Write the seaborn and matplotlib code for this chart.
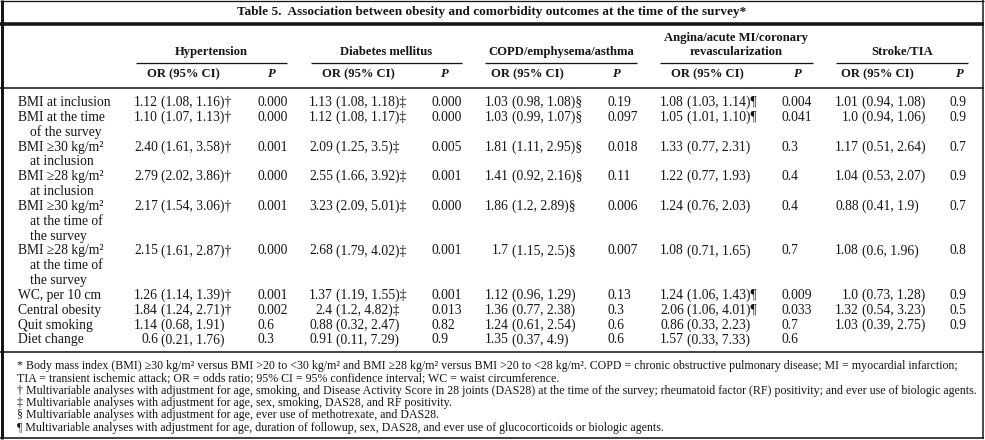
import matplotlib
matplotlib.use("Agg")
import matplotlib.pyplot as plt
import seaborn as sns
import pandas as pd

# ---------------- data ----------------
title = "Table 5.  Association between obesity and comorbidity outcomes at the time of the survey*"
outcomes = [["Hypertension"], ["Diabetes mellitus"], ["COPD/emphysema/asthma"],
            ["Angina/acute MI/coronary", "revascularization"], ["Stroke/TIA"]]
row_labels = [["BMI at inclusion"],
              ["BMI at the time", "of the survey"],
              ["BMI \u226530 kg/m\u00b2", "at inclusion"],
              ["BMI \u226528 kg/m\u00b2", "at inclusion"],
              ["BMI \u226530 kg/m\u00b2", "at the time of", "the survey"],
              ["BMI \u226528 kg/m\u00b2", "at the time of", "the survey"],
              ["WC, per 10 cm"],
              ["Central obesity"],
              ["Quit smoking"],
              ["Diet change"]]
hyp_or = ["1.12 (1.08, 1.16)\u2020", "1.10 (1.07, 1.13)\u2020", "2.40 (1.61, 3.58)\u2020",
          "2.79 (2.02, 3.86)\u2020", "2.17 (1.54, 3.06)\u2020", "2.15 (1.61, 2.87)\u2020",
          "1.26 (1.14, 1.39)\u2020", "1.84 (1.24, 2.71)\u2020", "1.14 (0.68, 1.91)", "0.6 (0.21, 1.76)"]
hyp_p = ["0.000", "0.000", "0.001", "0.000", "0.001", "0.000", "0.001", "0.002", "0.6", "0.3"]
dm_or = ["1.13 (1.08, 1.18)\u2021", "1.12 (1.08, 1.17)\u2021", "2.09 (1.25, 3.5)\u2021",
         "2.55 (1.66, 3.92)\u2021", "3.23 (2.09, 5.01)\u2021", "2.68 (1.79, 4.02)\u2021",
         "1.37 (1.19, 1.55)\u2021", "2.4 (1.2, 4.82)\u2021", "0.88 (0.32, 2.47)", "0.91 (0.11, 7.29)"]
dm_p = ["0.000", "0.000", "0.005", "0.001", "0.000", "0.001", "0.001", "0.013", "0.82", "0.9"]
copd_or = ["1.03 (0.98, 1.08)\u00a7", "1.03 (0.99, 1.07)\u00a7", "1.81 (1.11, 2.95)\u00a7",
           "1.41 (0.92, 2.16)\u00a7", "1.86 (1.2, 2.89)\u00a7", "1.7 (1.15, 2.5)\u00a7",
           "1.12 (0.96, 1.29)", "1.36 (0.77, 2.38)", "1.24 (0.61, 2.54)", "1.35 (0.37, 4.9)"]
copd_p = ["0.19", "0.097", "0.018", "0.11", "0.006", "0.007", "0.13", "0.3", "0.6", "0.6"]
ang_or = ["1.08 (1.03, 1.14)\u00b6", "1.05 (1.01, 1.10)\u00b6", "1.33 (0.77, 2.31)",
          "1.22 (0.77, 1.93)", "1.24 (0.76, 2.03)", "1.08 (0.71, 1.65)",
          "1.24 (1.06, 1.43)\u00b6", "2.06 (1.06, 4.01)\u00b6", "0.86 (0.33, 2.23)", "1.57 (0.33, 7.33)"]
ang_p = ["0.004", "0.041", "0.3", "0.4", "0.4", "0.7", "0.009", "0.033", "0.7", "0.6"]
str_or = ["1.01 (0.94, 1.08)", "1.0 (0.94, 1.06)", "1.17 (0.51, 2.64)", "1.04 (0.53, 2.07)",
          "0.88 (0.41, 1.9)", "1.08 (0.6, 1.96)", "1.0 (0.73, 1.28)", "1.32 (0.54, 3.23)",
          "1.03 (0.39, 2.75)", ""]
str_p = ["0.9", "0.9", "0.7", "0.9", "0.7", "0.8", "0.9", "0.5", "0.9", ""]
footnotes = [
    "* Body mass index (BMI) \u226530 kg/m\u00b2 versus BMI >20 to <30 kg/m\u00b2 and BMI \u226528 kg/m\u00b2 versus BMI >20 to <28 kg/m\u00b2. COPD = chronic obstructive pulmonary disease; MI = myocardial infarction;",
    "TIA = transient ischemic attack; OR = odds ratio; 95% CI = 95% confidence interval; WC = waist circumference.",
    "\u2020 Multivariable analyses with adjustment for age, smoking, and Disease Activity Score in 28 joints (DAS28) at the time of the survey; rheumatoid factor (RF) positivity; and ever use of biologic agents.",
    "\u2021 Multivariable analyses with adjustment for age, sex, smoking, DAS28, and RF positivity.",
    "\u00a7 Multivariable analyses with adjustment for age, ever use of methotrexate, and DAS28.",
    "\u00b6 Multivariable analyses with adjustment for age, duration of followup, sex, DAS28, and ever use of glucocorticoids or biologic agents.",
]

or_cols = [hyp_or, dm_or, copd_or, ang_or, str_or]
p_cols = [hyp_p, dm_p, copd_p, ang_p, str_p]
table = pd.DataFrame({o[-1]: ors for o, ors in zip(outcomes, or_cols)})

# ---------------- layout ----------------
sns.set_theme(style="white")
plt.rcParams['font.family'] = ['Liberation Serif', 'DejaVu Serif']
INK = "#161616"

fig = plt.figure(figsize=(9.85, 4.4), dpi=100)
ax = fig.add_axes([0, 0, 1, 1])
ax.set_xlim(0, 985)
ax.set_ylim(440, 0)
ax.axis('off')
renderer = fig.canvas.get_renderer()


def fit(s, target, weight='normal', style='normal'):
    t = ax.text(0, 0, s, fontsize=10, fontweight=weight, fontstyle=style)
    w = t.get_window_extent(renderer).width
    t.remove()
    return 10 * target / w


body_fs = fit("BMI at inclusion", 92)
head_fs = fit("Hypertension", 73, 'bold')
title_fs = fit(title, 511, 'bold')
foot_fs = fit(footnotes[2], 953)

PX = 0.72  # points per pixel


def hline(y, x0, x1, px):
    ax.plot([x0, x1], [y, y], color=INK, lw=px * PX, solid_capstyle='butt')


def vline(x, y0, y1, px):
    ax.plot([x, x], [y0, y1], color=INK, lw=px * PX, solid_capstyle='butt')


# borders and rules
hline(0.6, 0, 984, 1.3)
vline(1.5, 0, 439, 3.0)
vline(982.8, 0, 439, 1.5)
hline(438.2, 0, 984, 1.6)
hline(24.3, 0, 984, 3.6)
hline(88.2, 0, 984, 1.6)
hline(351.8, 0, 984, 1.6)

# title
ax.text(492, 15, title, fontsize=title_fs, fontweight='bold', ha='center', va='baseline', color=INK)

# group headers
grp_span = [(136, 287), (311, 462), (485, 637), (660, 813), (836, 968)]
or_head_x = [183, 358, 527, 707, 877]
p_head_x = [272, 445, 617, 798, 960]
for lines, (x0, x1) in zip(outcomes, grp_span):
    xc = (x0 + x1) / 2
    base = 55 - 14 * (len(lines) - 1)
    for k, ln in enumerate(lines):
        ax.text(xc, base + 14 * k, ln, fontsize=head_fs, fontweight='bold',
                ha='center', va='baseline', color=INK)
    hline(62.8, x0, x1, 1.3)
for xo, xp in zip(or_head_x, p_head_x):
    ax.text(xo, 77, "OR (95% CI)", fontsize=head_fs, fontweight='bold',
            ha='center', va='baseline', color=INK)
    ax.text(xp, 77, "P", fontsize=head_fs, fontweight='bold', fontstyle='italic',
            ha='center', va='baseline', color=INK)

# body
or_end = [158, 333, 509, 684, 859]
p_left = [257, 432, 607, 782, 950]
y0, pitch, off = 101.7, 14.83, 4.4
line_idx = 0
for r, lines in enumerate(row_labels):
    yb = y0 + line_idx * pitch + off
    for k, ln in enumerate(lines):
        ax.text(18 if k == 0 else 30, yb + k * pitch, ln, fontsize=body_fs,
                ha='left', va='baseline', color=INK)
    for c in range(5):
        s = table.iloc[r, c]
        if s:
            head, rest = s.split(" ", 1)
            ax.text(or_end[c], yb, head, fontsize=body_fs, ha='right', va='baseline', color=INK)
            ax.text(or_end[c] + 3.4, yb, rest, fontsize=body_fs, ha='left', va='baseline', color=INK)
        pv = p_cols[c][r]
        if pv:
            ax.text(p_left[c], yb, pv, fontsize=body_fs, ha='left', va='baseline', color=INK)
    line_idx += len(lines)

# footnotes
for k, fn in enumerate(footnotes):
    ax.text(17, 369.3 + k * 12.25, fn, fontsize=foot_fs, ha='left', va='baseline', color=INK)

fig.savefig("out.png", dpi=100, facecolor='white')
